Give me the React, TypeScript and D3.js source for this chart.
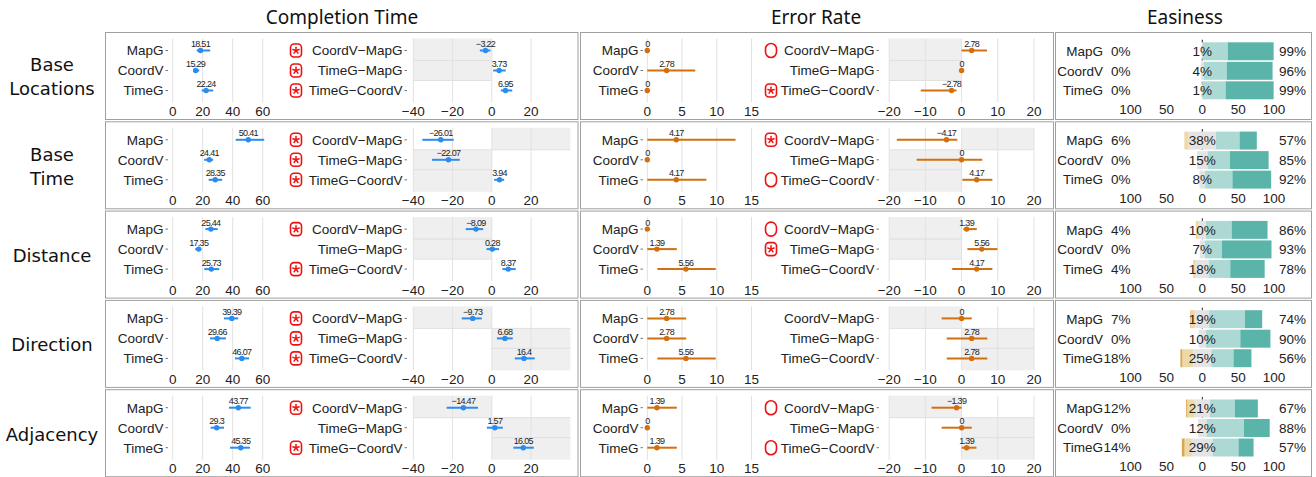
import React from "react";
import * as d3 from "d3";

// rows of the figure and the items inside each small panel
const tasks = [["Base", "Locations"], ["Base", "Time"], ["Distance"], ["Direction"], ["Adjacency"]];
const groups = ["MapG", "CoordV", "TimeG"];
const pairs = ["CoordV−MapG", "TimeG−MapG", "TimeG−CoordV"];

// completion time (s): mean and CI per task x group
const timeMean = [[18.51, 15.29, 22.24], [50.41, 24.41, 28.35], [25.44, 17.35, 25.73], [39.39, 29.66, 46.07], [43.77, 29.3, 45.35]];
const timeLo = [[16, 13.7, 19.3], [42, 21, 24], [21.8, 15, 21], [34.2, 24.9, 41.5], [37.5, 25.3, 38.2]];
const timeHi = [[25, 17.7, 27], [61, 27, 33], [30, 19, 31], [43.7, 35.5, 50.9], [52, 34.2, 51.5]];

// completion time differences
const timeDiff = [[-3.22, 3.73, 6.95], [-26.01, -22.07, 3.94], [-8.09, 0.28, 8.37], [-9.73, 6.68, 16.4], [-14.47, 1.57, 16.05]];
const timeDiffLo = [[-6.1, 0.7, 4.6], [-35.4, -30.5, 1.2], [-13.3, -2.7, 5.4], [-15.3, 2.6, 11.7], [-23, -2.5, 11]];
const timeDiffHi = [[-0.7, 7.1, 10.4], [-19.4, -16.3, 6.3], [-4.4, 3.7, 12.2], [-5.1, 10.7, 21.9], [-7, 5.6, 21.4]];

// error rate (%)
const errMean = [[0, 2.78, 0], [4.17, 0, 4.17], [0, 1.39, 5.56], [2.78, 2.78, 5.56], [1.39, 0, 1.39]];
const errLo = [[0, 0, 0], [0, 0, 0], [0, 0, 1.45], [0, 0, 1.45], [0, 0, 0]];
const errHi = [[0, 6.9, 0], [12.7, 0, 8.5], [0, 4.25, 9.85], [5.6, 5.6, 9.85], [4.25, 0, 4.25]];

// error rate differences
const errDiff = [[2.78, 0, -2.78], [-4.17, 0, 4.17], [1.39, 5.56, 4.17], [0, 2.78, 2.78], [-1.39, 0, 1.39]];
const errDiffLo = [[0, 0, -11.3], [-17.9, -12.4, 0.2], [0.5, 1.6, -2.6], [-5.5, -4.1, -4.1], [-8.3, -5.5, 0]];
const errDiffHi = [[7, 0, -1.4], [-1.2, 5.7, 8.5], [4.2, 9.9, 8.5], [2.8, 7.1, 7.1], [0, 2.8, 4.1]];

// shaded side of the difference panels, per task x pair
const shade = [["neg", "neg", ""], ["pos", "neg", "neg"], ["neg", "neg", ""], ["neg", "pos", "pos"], ["neg", "pos", "pos"]];

// significance marks: s = significant (asterisk), o = marginal (empty)
const timeSig = [["s", "s", "s"], ["s", "s", "s"], ["s", "", "s"], ["s", "s", "s"], ["s", "", "s"]];
const errSig = [["o", "", "s"], ["s", "", "o"], ["o", "s", ""], ["", "", ""], ["o", "", "o"]];

// easiness likert shares: very hard, hard, neutral, easy, very easy
const ease = [
  [[0, 0, 1, 35, 64], [0, 0, 4, 32, 64], [0, 0, 1, 32, 67]],
  [[0, 6, 38, 33, 24], [0, 0, 15, 31, 54], [0, 0, 8, 38, 54]],
  [[0, 4, 10, 36, 50], [0, 0, 7, 24, 69], [0, 4, 18, 30, 48]],
  [[1.4, 5.6, 19, 50, 24], [0, 0, 10, 48, 42], [3, 15, 25, 31, 25]],
  [[2, 10, 21, 35, 32], [0, 0, 12, 52, 36], [4, 10, 29, 36, 21]],
];
const easeColors = ["#d9a84e", "#ecd9a6", "#e4e4e4", "#acd9d4", "#5ab4a9"];

const timeTicks = [0, 20, 40, 60];
const timeDiffTicks = [-40, -20, 0, 20];
const errTicks = [0, 5, 10, 15];
const errDiffTicks = [-20, -10, 0, 10, 20];
const easeTicks = [-100, -50, 0, 50, 100];

const W = 1316;
const H = 477;
const axisFont = "'Liberation Sans', Arial, Helvetica, sans-serif";
const titleFont = "'Noto Sans', 'Open Sans', sans-serif";
const rowFont = "'DejaVu Sans', 'Noto Sans', sans-serif";
const BLUE = "#2b8cee";
const ORANGE = "#d2700f";

const timeX = d3.scaleLinear().domain([0, 60]).range([172.7, 262.7]);
const timeDX = d3.scaleLinear().domain([-40, 40]).range([413.3, 570.3]);
const errX = d3.scaleLinear().domain([0, 15]).range([647.3, 751.5]);
const errDX = d3.scaleLinear().domain([-20, 20]).range([889.2, 1034]);
const easeX = d3.scaleLinear().domain([-100, 100]).range([1130.6, 1274]);

const fmt = (v) => String(v).replace("-", "−");

const SigIcon = ({ kind, cx, cy }) => {
  if (!kind) return null;
  if (kind === "o") {
    return <rect x={cx - 5.5} y={cy - 7} width={11} height={14} rx={5.5} fill="none" stroke="#ee1111" strokeWidth={1.6} />;
  }
  const arms = d3.range(5).map((k) => {
    const a = -Math.PI / 2 + (k * 2 * Math.PI) / 5;
    return <line key={k} x1={cx} y1={cy} x2={cx + 3.3 * Math.cos(a)} y2={cy + 3.3 * Math.sin(a)} stroke="#ee1111" strokeWidth={1.5} strokeLinecap="round" />;
  });
  return (
    <g>
      <rect x={cx - 5.5} y={cy - 6.5} width={11} height={13} rx={3.5} fill="none" stroke="#ee1111" strokeWidth={1.6} />
      {arms}
    </g>
  );
};

const Forest = ({ T, x, ticks, labels, labelEnd, mean, lo, hi, color, rowShade, sig, iconX }) => {
  const top = T + 6.5;
  const bottom = T + 70.5;
  const y = (j) => T + 18.5 + 20 * j;
  const [d0, d1] = x.domain();
  return (
    <g>
      {rowShade &&
        rowShade.map((s, j) => {
          if (!s) return null;
          const y0 = j === 0 ? top : y(j) - 10;
          const y1 = j === labels.length - 1 ? bottom : y(j) + 10;
          const x0 = s === "neg" ? x(d0) : x(0);
          const x1 = s === "neg" ? x(0) : x(d1);
          return (
            <g key={"s" + j}>
              <rect x={x0} y={y0} width={x1 - x0} height={y1 - y0} fill="#efefef" />
              {j > 0 && <line x1={x0} x2={x1} y1={y0} y2={y0} stroke="#e0e0e0" />}
              {j < labels.length - 1 && <line x1={x0} x2={x1} y1={y1} y2={y1} stroke="#e0e0e0" />}
            </g>
          );
        })}
      {ticks.map((t) => (
        <line key={"g" + t} x1={x(t)} x2={x(t)} y1={top} y2={bottom} stroke="#e2e2e2" strokeWidth={1} />
      ))}
      {ticks.map((t) => (
        <text key={"t" + t} x={x(t)} y={T + 84} textAnchor="middle" fontSize={13.5} fontFamily={axisFont} fill="#222">
          {fmt(t)}
        </text>
      ))}
      {labels.map((l, j) => (
        <g key={"l" + j}>
          <text x={labelEnd} y={y(j)} dy="0.36em" textAnchor="end" fontSize={13.5} fontFamily={axisFont} fill="#222">
            {l}
          </text>
          <line x1={labelEnd + 2} x2={labelEnd + 4.5} y1={y(j)} y2={y(j)} stroke="#555" strokeWidth={0.8} />
          {sig && <SigIcon kind={sig[j]} cx={iconX} cy={y(j)} />}
        </g>
      ))}
      {mean.map((m, j) => (
        <g key={"m" + j}>
          <line x1={x(lo[j])} x2={x(hi[j])} y1={y(j)} y2={y(j)} stroke={color} strokeWidth={2} />
          <circle cx={x(m)} cy={y(j)} r={2.7} fill={color} />
          <text x={x(m)} y={y(j) - 3.5} textAnchor="middle" fontSize={9} letterSpacing={-0.7} fontFamily={axisFont} fill="#222">
            {fmt(m)}
          </text>
        </g>
      ))}
    </g>
  );
};

const Easiness = ({ T, rows }) => {
  const y = d3.scaleBand().domain(groups).range([T + 10.3, T + 67.3]).paddingInner(0.08);
  return (
    <g>
      <line x1={easeX(0)} x2={easeX(0)} y1={T + 7.7} y2={T + 67.7} stroke="#222" strokeDasharray="3,3" />
      {rows.map((r, j) => {
        const g = groups[j];
        let acc = -(r[0] + r[1] + r[2] / 2);
        const segs = r.map((v, k) => {
          const x0 = acc;
          acc += v;
          return v > 0 ? <rect key={k} x={easeX(x0)} width={easeX(acc) - easeX(x0)} y={y(g)} height={y.bandwidth()} fill={easeColors[k]} /> : null;
        });
        const cy = y(g) + y.bandwidth() / 2;
        return (
          <g key={g}>
            {segs}
            <text x={1103} y={cy} dy="0.36em" textAnchor="end" fontSize={13.5} fontFamily={axisFont} fill="#222">{g}</text>
            <text x={easeX(-100)} y={cy} dy="0.36em" textAnchor="end" fontSize={13.5} fontFamily={axisFont} fill="#222">{Math.round(r[0] + r[1])}%</text>
            <text x={easeX(0)} y={cy} dy="0.36em" textAnchor="middle" fontSize={13.5} fontFamily={axisFont} fill="#222">{Math.round(r[2])}%</text>
            <text x={easeX(100) + 5} y={cy} dy="0.36em" textAnchor="start" fontSize={13.5} fontFamily={axisFont} fill="#222">{Math.round(r[3] + r[4])}%</text>
          </g>
        );
      })}
      {easeTicks.map((t) => (
        <text key={t} x={easeX(t)} y={T + 82} textAnchor="middle" fontSize={13.5} fontFamily={axisFont} fill="#222">
          {Math.abs(t)}
        </text>
      ))}
    </g>
  );
};

export default function App() {
  const step = 89.3;
  return (
    <svg width={W} height={H} style={{ position: "absolute", left: 0, top: 0, background: "#fff" }}>
      <text x={342} y={24} textAnchor="middle" fontSize={19} fontFamily={titleFont} fill="#111">Completion Time</text>
      <text x={816} y={24} textAnchor="middle" fontSize={19} fontFamily={titleFont} fill="#111">Error Rate</text>
      <text x={1185} y={24} textAnchor="middle" fontSize={19} fontFamily={titleFont} fill="#111">Easiness</text>
      {tasks.map((name, i) => {
        const T = 32 + step * i;
        const lineGap = 24;
        const first = T + 45 - ((name.length - 1) * lineGap) / 2;
        return (
          <g key={i}>
            {name.map((w, k) => (
              <text key={k} x={52} y={first + k * lineGap} dy="0.36em" textAnchor="middle" fontSize={18} fontFamily={rowFont} fill="#111">
                {w}
              </text>
            ))}
            <rect x={105.5} y={T + 0.5} width={472.5} height={87} fill="none" stroke="#a0a0a0" />
            <rect x={580.5} y={T + 0.5} width={473} height={87} fill="none" stroke="#a0a0a0" />
            <rect x={1055.5} y={T + 0.5} width={256} height={87} fill="none" stroke="#a0a0a0" />
            <Forest T={T} x={timeX} ticks={timeTicks} labels={groups} labelEnd={163.5} mean={timeMean[i]} lo={timeLo[i]} hi={timeHi[i]} color={BLUE} />
            <Forest T={T} x={timeDX} ticks={timeDiffTicks} labels={pairs} labelEnd={402.5} mean={timeDiff[i]} lo={timeDiffLo[i]} hi={timeDiffHi[i]} color={BLUE} rowShade={shade[i]} sig={timeSig[i]} iconX={296} />
            <Forest T={T} x={errX} ticks={errTicks} labels={groups} labelEnd={638.5} mean={errMean[i]} lo={errLo[i]} hi={errHi[i]} color={ORANGE} />
            <Forest T={T} x={errDX} ticks={errDiffTicks} labels={pairs} labelEnd={874.5} mean={errDiff[i]} lo={errDiffLo[i]} hi={errDiffHi[i]} color={ORANGE} rowShade={shade[i]} sig={errSig[i]} iconX={771} />
            <Easiness T={T} rows={ease[i]} />
          </g>
        );
      })}
    </svg>
  );
}
